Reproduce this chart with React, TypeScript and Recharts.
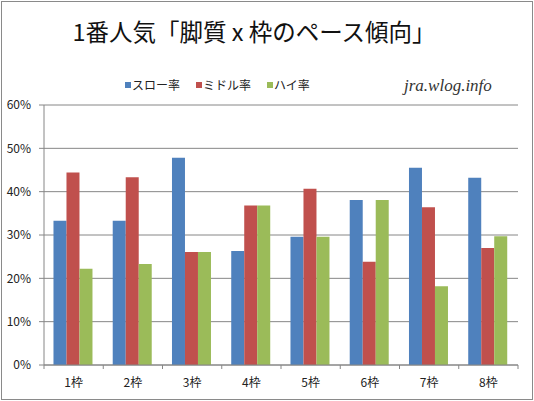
import { BarChart, Bar, XAxis, YAxis, CartesianGrid, Legend } from 'recharts';

const CATEGORIES = ['1枠', '2枠', '3枠', '4枠', '5枠', '6枠', '7枠', '8枠'];
const SLOW = [33.3, 33.3, 47.8, 26.3, 29.6, 38.1, 45.5, 43.2];
const MIDDLE = [44.4, 43.3, 26.1, 36.8, 40.7, 23.8, 36.4, 27.0];
const HIGH = [22.2, 23.3, 26.1, 36.8, 29.6, 38.1, 18.2, 29.7];
const Y_TICKS = [0, 10, 20, 30, 40, 50, 60];

const SERIES = [
  { key: 'slow', name: 'スロー率', color: '#4F81BD' },
  { key: 'middle', name: 'ミドル率', color: '#C0504D' },
  { key: 'high', name: 'ハイ率', color: '#9BBB59' },
];

const data = CATEGORIES.map((name, i) => ({
  name,
  slow: SLOW[i],
  middle: MIDDLE[i],
  high: HIGH[i],
}));

const W = 534;
const H = 401;
const MARGIN = { top: 105, right: 16, left: 0, bottom: 0 };
const Y_WIDTH = 44;
const X_HEIGHT = 36;
const AXIS = '#868686';
const FONT = '"Noto Sans CJK JP", "Noto Sans", sans-serif';
const BAND = (W - MARGIN.left - MARGIN.right - Y_WIDTH) / CATEGORIES.length;

// excel puts the category ticks between groups, not under them
function CategoryTick({ x, y, payload, index }: any) {
  const left = x - BAND / 2;
  const right = x + BAND / 2;
  return (
    <g>
      <line x1={left} y1={y} x2={left} y2={y + 4} stroke={AXIS} />
      {index === CATEGORIES.length - 1 && (
        <line x1={right} y1={y} x2={right} y2={y + 4} stroke={AXIS} />
      )}
      <text x={x} y={y + 22} textAnchor="middle" fontSize={12} fill="#222" fontFamily={FONT}>
        {payload.value}
      </text>
    </g>
  );
}

// keep series order (recharts sorts legend items by name otherwise)
function renderLegend(props: any) {
  const order = SERIES.map((s) => s.name);
  const items = [...(props.payload || [])].sort(
    (a: any, b: any) => order.indexOf(a.value) - order.indexOf(b.value)
  );
  return (
    <div style={{ display: 'flex', alignItems: 'center', fontFamily: FONT, fontSize: 12, color: '#222' }}>
      {items.map((item: any) => (
        <div key={item.value} style={{ display: 'flex', alignItems: 'center', marginRight: 16 }}>
          <span style={{ width: 6, height: 6, background: item.color, marginRight: 1, display: 'inline-block' }} />
          <span>{item.value}</span>
        </div>
      ))}
    </div>
  );
}

export default function App() {
  return (
    <div style={{ position: 'fixed', left: 0, top: 0, width: W, height: H, background: '#fff' }}>
      <div
        style={{
          position: 'absolute',
          left: 1,
          top: 1,
          width: W - 4,
          height: H - 4,
          border: '1px solid #8a8a8a',
        }}
      />
      <div
        style={{
          position: 'absolute',
          left: 0,
          top: 19,
          width: 508,
          textAlign: 'center',
          fontFamily: FONT,
          fontSize: 23.5,
          lineHeight: '24px',
          color: '#111',
          whiteSpace: 'nowrap',
        }}
      >
        1番人気「脚質 x 枠のペース傾向」
      </div>
      <div
        style={{
          position: 'absolute',
          left: 404,
          top: 76,
          fontFamily: '"Liberation Serif", serif',
          fontStyle: 'italic',
          fontSize: 17,
          color: '#333',
          whiteSpace: 'nowrap',
        }}
      >
        jra.wlog.info
      </div>
      <div style={{ position: 'absolute', left: 0, top: 0 }}>
        <BarChart width={W} height={H} data={data} margin={MARGIN} barCategoryGap="16%" barGap={0}>
          <CartesianGrid vertical={false} stroke={AXIS} />
          <XAxis
            dataKey="name"
            height={X_HEIGHT}
            axisLine={{ stroke: AXIS }}
            tickLine={false}
            tickSize={0}
            tickMargin={0}
            interval={0}
            tick={<CategoryTick />}
          />
          <YAxis
            width={Y_WIDTH}
            domain={[0, 60]}
            ticks={Y_TICKS}
            interval={0}
            tickFormatter={(v) => `${v}%`}
            axisLine={{ stroke: AXIS }}
            tickLine={{ stroke: AXIS }}
            tickSize={5}
            tickMargin={8}
            tick={{ fill: '#222', fontSize: 12, fontFamily: FONT }}
          />
          <Legend
            layout="horizontal"
            verticalAlign="middle"
            align="center"
            content={renderLegend}
            wrapperStyle={{ top: 76, left: 125, width: 'auto', height: 'auto' }}
          />
          {SERIES.map((s) => (
            <Bar key={s.key} dataKey={s.key} name={s.name} fill={s.color} isAnimationActive={false} />
          ))}
        </BarChart>
      </div>
    </div>
  );
}
